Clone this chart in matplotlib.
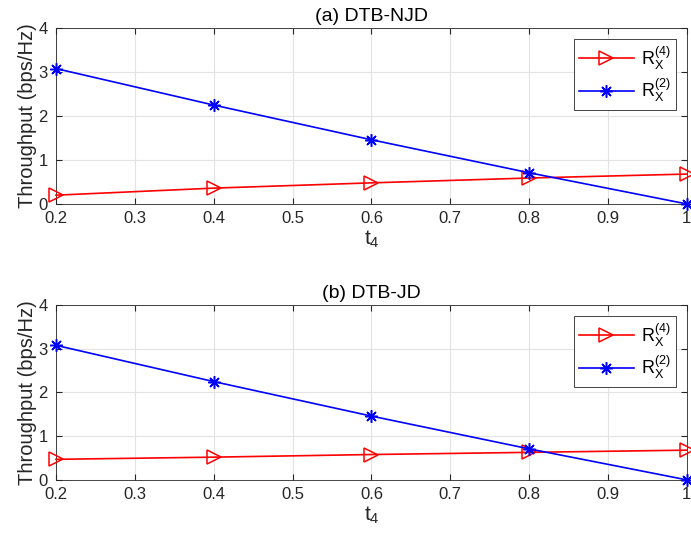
import matplotlib.pyplot as plt

plt.rcParams['font.family'] = ['Liberation Sans', 'DejaVu Sans']
plt.rcParams['mathtext.fontset'] = 'custom'
plt.rcParams['mathtext.rm'] = 'Liberation Sans'
plt.rcParams['mathtext.it'] = 'Liberation Sans'

# data
t4 = [0.2, 0.4, 0.6, 0.8, 1.0]
njd_r4 = [0.20, 0.36, 0.48, 0.59, 0.68]
njd_r2 = [3.08, 2.25, 1.46, 0.71, 0.0]
jd_r4 = [0.47, 0.52, 0.58, 0.63, 0.68]
jd_r2 = [3.08, 2.25, 1.46, 0.71, 0.0]

titles = ['(a) DTB-NJD', '(b) DTB-JD']
series = [(njd_r4, njd_r2), (jd_r4, jd_r2)]
xticks = [0.2, 0.3, 0.4, 0.5, 0.6, 0.7, 0.8, 0.9, 1.0]
xticklabels = ['0.2', '0.3', '0.4', '0.5', '0.6', '0.7', '0.8', '0.9', '1']
yticks = [0, 1, 2, 3, 4]

fig = plt.figure(figsize=(6.91, 5.41), dpi=100)
positions = [[0.081, 0.623, 0.913, 0.325], [0.081, 0.113, 0.913, 0.323]]

for pos, title, (r4, r2) in zip(positions, titles, series):
    ax = fig.add_axes(pos)
    ax.plot(t4, r4, color='red', marker='>', markersize=10, markerfacecolor='none',
            markeredgewidth=1.1, linewidth=1.2, label=r'$\mathrm{R}_\mathrm{X}^{(4)}$', clip_on=False, zorder=3)
    ax.plot(t4, r2, color='blue', marker=(8, 2, 0), markersize=9,
            markeredgewidth=1.1, linewidth=1.2, label=r'$\mathrm{R}_\mathrm{X}^{(2)}$', clip_on=False, zorder=3)
    ax.set_xlim(0.2, 1.0)
    ax.set_ylim(0, 4)
    ax.set_xticks(xticks)
    ax.set_xticklabels(xticklabels)
    ax.set_yticks(yticks)
    ax.tick_params(direction='in', length=4, labelsize=12, colors='#262626', top=True, right=True)
    ax.tick_params(axis='y', pad=6)
    ax.tick_params(axis='x', pad=5)
    ax.grid(True, color='#e3e3e3', linewidth=0.8)
    ax.set_axisbelow(True)
    for s in ax.spines.values():
        s.set_color('#262626')
        s.set_linewidth(0.6)
    ax.set_title(title, fontsize=14, pad=5)
    ax.set_xlabel('$t_4$', fontsize=15, color='#262626', labelpad=2)
    ax.set_ylabel('Throughput (bps/Hz)', fontsize=14.5, color='#262626', labelpad=1)
    leg = ax.legend(loc='upper right', fontsize=13, fancybox=False, framealpha=1,
                    edgecolor='#262626', handlelength=3.0, borderaxespad=0.6,
                    labelspacing=0.3, handletextpad=0.4, borderpad=0.3)
    leg.get_frame().set_linewidth(0.6)

fig.savefig('out.png', dpi=100)
